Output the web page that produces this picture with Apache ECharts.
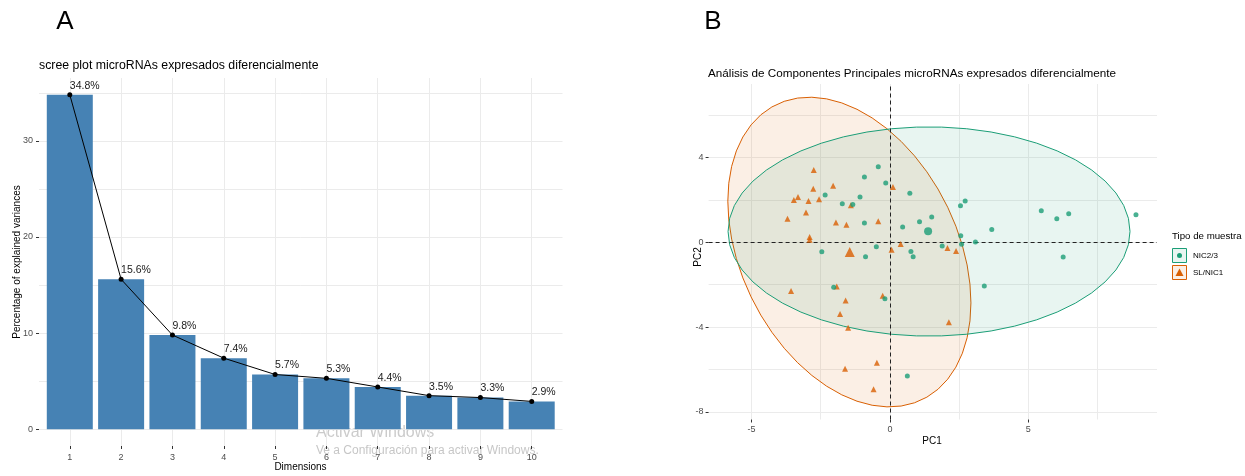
<!DOCTYPE html>
<html><head><meta charset="utf-8">
<script src="https://cdn.jsdelivr.net/npm/echarts@6/dist/echarts.min.js"></script>
<style>html,body{margin:0;padding:0;background:#fff}#c{width:1245px;height:476px}</style>
</head><body><div id="c"></div>
<script>
// ---- Panel A data (scree plot)
const dims = [1,2,3,4,5,6,7,8,9,10];
const variances = [34.8,15.6,9.8,7.4,5.7,5.3,4.4,3.5,3.3,2.9];
const screeYTicks = [0,10,20,30];
const screeYGrid = [0,5,10,15,20,25,30,35];

// ---- Panel B data (PCA individuals)
const nicX = [-0.42,-0.92,-0.15,-2.34,-1.08,0.72,-1.72,-1.34,-0.92,0.46,1.07,1.51,2.55,2.72,2.56,0.76,0.84,1.89,2.59,3.09,3.68,3.41,5.47,6.03,6.46,6.26,8.89,-0.49,-0.88,-2.46,-2.03,-0.18,0.63];
const nicY = [3.57,3.08,2.80,2.23,2.14,2.31,1.82,1.79,0.91,0.72,0.97,1.19,1.73,1.95,0.31,-0.43,-0.68,-0.17,-0.09,0.01,0.61,-2.06,1.49,1.11,1.35,-0.69,1.30,-0.21,-0.68,-0.44,-2.12,-2.66,-6.31];
const slX = [-2.75,-2.05,-2.77,-3.32,-3.47,-2.94,-2.56,-3.03,-3.70,-1.95,-1.57,-0.42,-1.41,0.11,-2.90,-2.90,0.06,0.39,2.08,2.39,-3.57,-1.92,-1.60,-1.80,-1.51,-0.26,2.13,-1.62,-0.47,-0.59];
const slY = [3.41,2.67,2.53,2.14,2.00,1.95,2.03,1.41,1.11,0.93,0.83,0.99,1.75,2.61,0.25,0.12,-0.35,-0.08,-0.27,-0.41,-2.30,-2.08,-2.75,-3.38,-4.03,-2.52,-3.77,-5.96,-5.68,-6.93];
const nicMean = [1.38, 0.52];
const slMean = [-1.45, -0.46];
const pcaXTicks = [-5,0,5];
const pcaXGrid = [-5,-2.5,0,2.5,5,7.5];
const pcaYTicks = [-8,-4,0,4];
const pcaYGrid = [-8,-6,-4,-2,0,2,4,6];
const groupNames = ['NIC2/3','SL/NIC1'];

const GREEN = '#1B9E77', ORANGE = '#D95F02';
const FONT = '"Liberation Sans", Arial, sans-serif';

// normal-theory 95% ellipse (as ggplot2 stat_ellipse type="norm")
function ellipse(xs, ys, level, segments) {
  const n = xs.length;
  const mx = xs.reduce((a,b)=>a+b,0)/n, my = ys.reduce((a,b)=>a+b,0)/n;
  let sxx=0, syy=0, sxy=0;
  for (let i=0;i<n;i++){ const dx=xs[i]-mx, dy=ys[i]-my; sxx+=dx*dx; syy+=dy*dy; sxy+=dx*dy; }
  sxx/=(n-1); syy/=(n-1); sxy/=(n-1);
  const a = Math.sqrt(sxx), b = sxy/a, c = Math.sqrt(syy - b*b);
  const dfd = n-1;
  const r = Math.sqrt(dfd*(Math.pow(1-level, -2/dfd) - 1));
  const pts = [];
  for (let k=0;k<segments;k++){
    const t = 2*Math.PI*k/(segments-1);
    const u = Math.cos(t), v = Math.sin(t);
    pts.push([mx + r*u*a, my + r*(u*b + v*c)]);
  }
  return pts;
}
const ellipses = [
  {pts: ellipse(slX, slY, 0.95, 51), color: ORANGE, fill: 'rgba(217,95,2,0.1)'},
  {pts: ellipse(nicX, nicY, 0.95, 51), color: GREEN, fill: 'rgba(27,158,119,0.1)'}
];

const chart = echarts.init(document.getElementById('c'), null, {renderer:'canvas'});
const tickLabel = {color:'#4D4D4D', fontSize:9, fontFamily:FONT};
const gridLine = {silent:true, z:0, zlevel:0, symbol:'none', label:{show:false}, emphasis:{disabled:true}, lineStyle:{color:'#EBEBEB', width:1, type:'solid'}};
const noLine = {show:false, onZero:false};

const option = {
  animation:false,
  backgroundColor:'#fff',
  grid:[
    {left:39, top:78, width:523.5, height:368},
    {left:708.6, top:84, width:448.4, height:335.5}
  ],
  xAxis:[
    {gridIndex:0, type:'value', min:0.4, max:10.6, splitLine:{show:false}, axisLine:noLine,
     axisTick:{show:true, length:3, lineStyle:{color:'#333'}, customValues:dims},
     axisLabel:Object.assign({margin:7, customValues:dims}, tickLabel)},
    {gridIndex:1, type:'value', min:-6.55, max:9.65, splitLine:{show:false}, axisLine:noLine,
     axisTick:{show:true, length:3, lineStyle:{color:'#333'}, customValues:pcaXTicks},
     axisLabel:Object.assign({margin:6, customValues:pcaXTicks}, tickLabel)}
  ],
  yAxis:[
    {gridIndex:0, type:'value', min:-1.74, max:36.54, splitLine:{show:false}, axisLine:noLine,
     axisTick:{show:true, length:3, lineStyle:{color:'#333'}, customValues:screeYTicks},
     axisLabel:Object.assign({margin:6, customValues:screeYTicks}, tickLabel)},
    {gridIndex:1, type:'value', min:-8.36, max:7.47, splitLine:{show:false}, axisLine:noLine,
     axisTick:{show:true, length:3, lineStyle:{color:'#333'}, customValues:pcaYTicks},
     axisLabel:Object.assign({margin:5, customValues:pcaYTicks}, tickLabel)}
  ],
  series:[
    // panel A grid
    {type:'line', xAxisIndex:0, yAxisIndex:0, data:[], z:0,
     markLine:Object.assign({data: screeYGrid.map(v=>({yAxis:v})).concat(dims.map(d=>({xAxis:d})))}, gridLine)},
    {type:'bar', xAxisIndex:0, yAxisIndex:0, z:2, barWidth:46,
     itemStyle:{color:'#4682B4'}, data: dims.map((d,i)=>[d, variances[i]])},
    {type:'line', xAxisIndex:0, yAxisIndex:0, z:3, symbol:'circle', symbolSize:5,
     lineStyle:{color:'#000', width:1}, itemStyle:{color:'#000'},
     label:{show:true, position:'top', align:'left', distance:1, color:'#1a1a1a', fontSize:10.5, fontFamily:FONT,
            formatter:p=>p.value[1]+'%'},
     data: dims.map((d,i)=>[d, variances[i]])},
    // panel B grid
    {type:'line', xAxisIndex:1, yAxisIndex:1, data:[], z:0,
     markLine:Object.assign({data: pcaYGrid.map(v=>({yAxis:v})).concat(pcaXGrid.map(d=>({xAxis:d})))}, gridLine)},
    // ellipses
    {type:'custom', xAxisIndex:1, yAxisIndex:1, z:1, clip:false, silent:true,
     data:[[0,0],[1,0]],
     renderItem:function(params, api){
       const e = ellipses[params.dataIndex];
       return {type:'polygon', shape:{points:e.pts.map(p=>api.coord(p))},
               style:{fill:e.fill, stroke:e.color, lineWidth:1}};
     }},
    // reference dashed lines
    {type:'line', xAxisIndex:1, yAxisIndex:1, data:[], z:2,
     markLine:{silent:true, z:2, symbol:'none', label:{show:false}, emphasis:{disabled:true}, lineStyle:{color:'#222', width:1, type:[4,3]},
               data:[{xAxis:0},{yAxis:0}]}},
    // points
    {type:'scatter', name:groupNames[1], xAxisIndex:1, yAxisIndex:1, z:3, symbol:'triangle', symbolSize:6,
     itemStyle:{color:ORANGE}, data: slX.map((x,i)=>[x, slY[i]])},
    {type:'scatter', name:groupNames[0], xAxisIndex:1, yAxisIndex:1, z:3, symbol:'circle', symbolSize:5,
     itemStyle:{color:GREEN}, data: nicX.map((x,i)=>[x, nicY[i]])},
    {type:'scatter', xAxisIndex:1, yAxisIndex:1, z:4, symbol:'triangle', symbolSize:10,
     itemStyle:{color:ORANGE}, data:[slMean]},
    {type:'scatter', xAxisIndex:1, yAxisIndex:1, z:4, symbol:'circle', symbolSize:8,
     itemStyle:{color:GREEN}, data:[nicMean]}
  ],
  graphic:[
    {type:'text', x:65, y:22, style:{text:'A', font:'26px '+FONT, fill:'#000', textAlign:'center', textVerticalAlign:'middle'}},
    {type:'text', x:713, y:22, style:{text:'B', font:'26px '+FONT, fill:'#000', textAlign:'center', textVerticalAlign:'middle'}},
    {type:'text', x:39, y:66, style:{text:'scree plot microRNAs expresados diferencialmente', font:'12.3px '+FONT, fill:'#000', textVerticalAlign:'middle'}},
    {type:'text', x:17, y:262, rotation:Math.PI/2, style:{text:'Percentage of explained variances', font:'10px '+FONT, fill:'#000', textAlign:'center', textVerticalAlign:'middle'}},
    {type:'text', x:300.5, y:467, style:{text:'Dimensions', font:'10px '+FONT, fill:'#000', textAlign:'center', textVerticalAlign:'middle'}},
    {type:'text', x:708, y:74, style:{text:'Análisis de Componentes Principales microRNAs expresados diferencialmente', font:'11.7px '+FONT, fill:'#000', textVerticalAlign:'middle'}},
    {type:'text', x:698, y:257, rotation:Math.PI/2, style:{text:'PC2', font:'10px '+FONT, fill:'#000', textAlign:'center', textVerticalAlign:'middle'}},
    {type:'text', x:932, y:441, style:{text:'PC1', font:'10px '+FONT, fill:'#000', textAlign:'center', textVerticalAlign:'middle'}},
    // legend
    {type:'text', x:1172, y:236, style:{text:'Tipo de muestra', font:'9.7px '+FONT, fill:'#000', textVerticalAlign:'middle'}},
    {type:'rect', shape:{x:1172.5, y:248.5, width:14, height:14}, style:{fill:'rgba(27,158,119,0.1)', stroke:GREEN, lineWidth:1}},
    {type:'circle', shape:{cx:1179.5, cy:255.5, r:2.5}, style:{fill:GREEN}},
    {type:'text', x:1193, y:255.5, style:{text:groupNames[0], font:'8px '+FONT, fill:'#000', textVerticalAlign:'middle'}},
    {type:'rect', shape:{x:1172.5, y:265.5, width:14, height:14}, style:{fill:'rgba(217,95,2,0.1)', stroke:ORANGE, lineWidth:1}},
    {type:'polygon', shape:{points:[[1179.5,268.5],[1183.5,276],[1175.5,276]]}, style:{fill:ORANGE}},
    {type:'text', x:1193, y:272.5, style:{text:groupNames[1], font:'8px '+FONT, fill:'#000', textVerticalAlign:'middle'}},
    // OS watermark visible in the reference screenshot
    {type:'text', x:316, y:433, style:{text:'Activar Windows', font:'16px '+FONT, fill:'rgba(160,160,160,0.55)', textVerticalAlign:'middle'}},
    {type:'text', x:316, y:451, style:{text:'Ve a Configuración para activar Windows.', font:'12px '+FONT, fill:'rgba(160,160,160,0.6)', textVerticalAlign:'middle'}}
  ]
};
chart.setOption(option);
</script>
</body></html>
